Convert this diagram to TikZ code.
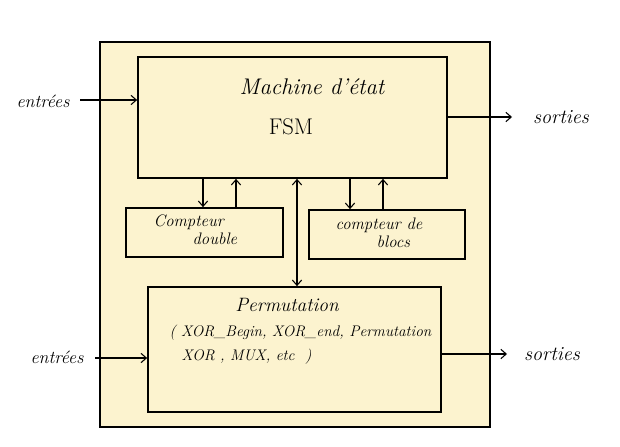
\documentclass[tikz,border=0pt]{standalone}
\usetikzlibrary{arrows.meta,fit}
\definecolor{cream}{RGB}{252,243,207}
\begin{document}
\begin{tikzpicture}[x=0.75pt,y=-0.75pt,
  box/.style={draw=black,line width=1.3pt,fill=cream,inner sep=0pt},
  conn/.style={line width=0.8pt,-{Straight Barb[length=4pt,width=7pt]}},
  dconn/.style={line width=0.8pt,{Straight Barb[length=4pt,width=7pt]}-{Straight Barb[length=4pt,width=7pt]}},
  lbl/.style={font=\itshape\fontsize{13.5}{16}\selectfont,inner sep=1pt},
  olbl/.style={font=\itshape\fontsize{15}{18}\selectfont,inner sep=1pt},
  txt/.style={font=\itshape\fontsize{12.5}{15}\selectfont,inner sep=1pt,anchor=west}]
\useasboundingbox[fill=white] (0,0) rectangle (620,446);
\node[box,line width=1.5pt,fit={(100,42) (490,427)}] (frame) {};
\node[box,fit={(138,57) (447,178)}] (fsm) {};
\node[box,fit={(126,208) (283,257)}] (cd) {};
\node[box,fit={(309,210) (465,259)}] (cb) {};
\node[box,fit={(148,287) (441,412)}] (perm) {};
% texts
\node[font=\itshape\fontsize{17}{20}\selectfont] (t1) at (312,87) {Machine d'état};
\node[font=\fontsize{17}{20}\selectfont] (t2) at (291,127) {FSM};
\node[txt] (c1) at (152,222) {Compteur};
\node[txt] (c2) at (191,239) {double};
\node[txt] (b1) at (334,225) {compteur de};
\node[txt] (b2) at (375,242) {blocs};
\node[font=\itshape\fontsize{14.5}{17}\selectfont] (p1) at (287,305) {Permutation};
\node[txt,font=\itshape\fontsize{11.5}{14}\selectfont] (p2) at (168,333) {( XOR\_Begin, XOR\_end, Permutation};
\node[txt,font=\itshape\fontsize{11.5}{14}\selectfont] (p3) at (180,357) {XOR , MUX, etc \ )};
\node[lbl] (in1) at (43,101) {entrées};
\node[olbl] (out1) at (561,117) {sorties};
\node[lbl] (in2) at (57,357) {entrées};
\node[olbl] (out2) at (552,354) {sorties};
% helper coordinates
\coordinate (a1) at (80,100);
\coordinate (a2) at (512,117);
\coordinate (a3) at (95,358);
\coordinate (a4) at (507,354);
\coordinate (x1) at (203,0);
\coordinate (x2) at (236,0);
\coordinate (x3) at (350,0);
\coordinate (x4) at (383,0);
\coordinate (x5) at (297,0);
% connectors
\draw[conn] (a1) -- (a1 -| fsm.west);
\draw[conn] (a2 -| fsm.east) -- (a2);
\draw[conn] (a3) -- (a3 -| perm.west);
\draw[conn] (a4 -| perm.east) -- (a4);
\draw[conn] (fsm.south -| x1) -- (cd.north -| x1);
\draw[conn] (cd.north -| x2) -- (fsm.south -| x2);
\draw[conn] (fsm.south -| x3) -- (cb.north -| x3);
\draw[conn] (cb.north -| x4) -- (fsm.south -| x4);
\draw[dconn] (fsm.south -| x5) -- (perm.north -| x5);
\end{tikzpicture}
\end{document}
